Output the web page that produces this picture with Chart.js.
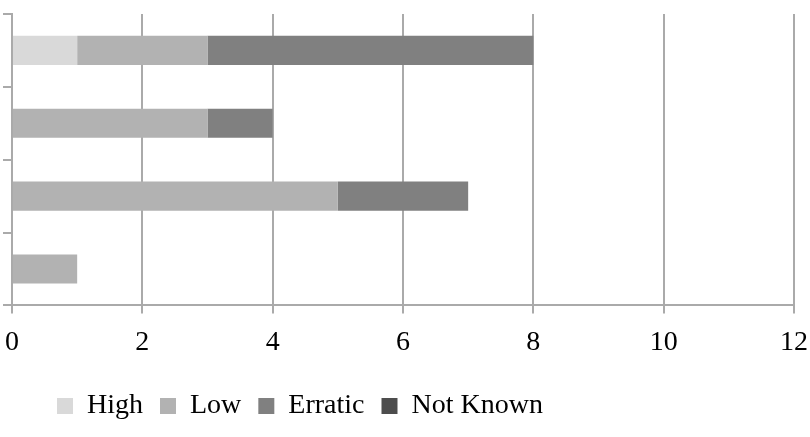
<!DOCTYPE html>
<html>
<head>
<meta charset="utf-8">
<script src="https://cdn.jsdelivr.net/npm/chart.js@4/dist/chart.umd.min.js"></script>
<style>
  html, body { margin: 0; padding: 0; background: #fff; }
  #wrap { width: 810px; height: 437px; }
</style>
</head>
<body>
<div id="wrap"><canvas id="chart"></canvas></div>
<script>
// categories top to bottom (no labels shown in the original)
const categories = ['1', '2', '3', '4'];
const seriesNames = ['High', 'Low', 'Erratic', 'Not Known'];
const high = [1, 0, 0, 0];
const low = [2, 3, 5, 1];
const erratic = [5, 1, 2, 0];
const notKnown = [0, 0, 0, 0];
const xTicks = [0, 2, 4, 6, 8, 10, 12];

const seriesColors = ['#d9d9d9', '#b2b2b2', '#808080', '#4d4d4d'];
const gridColor = '#aaaaaa';
const font = { family: '"Liberation Serif", "Times New Roman", serif', size: 28 };

// shift the legend row left, like the original
const legendShift = {
  id: 'legendShift',
  beforeDraw(chart) {
    if (chart.legend) chart.legend.left = 40;
  }
};

const values = [high, low, erratic, notKnown];

new Chart(document.getElementById('chart'), {
  type: 'bar',
  data: {
    labels: categories,
    datasets: values.map((v, i) => ({
      label: seriesNames[i],
      data: v,
      backgroundColor: seriesColors[i],
      borderWidth: 0,
      barPercentage: 0.4,
      categoryPercentage: 1
    }))
  },
  options: {
    indexAxis: 'y',
    responsive: true,
    maintainAspectRatio: false,
    animation: false,
    layout: { padding: { left: 3, right: 16, top: 14, bottom: 7 } },
    plugins: {
      legend: {
        position: 'bottom',
        align: 'start',
        labels: {
          font: font,
          color: '#000',
          boxWidth: 16,
          boxHeight: 16,
          padding: 17
        }
      },
      tooltip: { enabled: false }
    },
    scales: {
      x: {
        stacked: true,
        min: 0,
        max: 12,
        afterBuildTicks: s => { s.ticks = xTicks.map(v => ({ value: v })); },
        afterFit: s => {
          s.height += 4;
          // labels only need half their width at the ends
          s.paddingLeft = 7;
          s.paddingRight = 14;
        },
        ticks: { font: font, color: '#000', padding: 12, maxRotation: 0 },
        grid: { color: gridColor, lineWidth: 2, tickLength: 8 },
        border: { color: gridColor, width: 2 }
      },
      y: {
        stacked: true,
        ticks: { display: false },
        grid: { color: gridColor, lineWidth: 2, drawOnChartArea: false, tickLength: 9 },
        border: { color: gridColor, width: 2 }
      }
    }
  },
  plugins: [legendShift]
});
</script>
</body>
</html>
